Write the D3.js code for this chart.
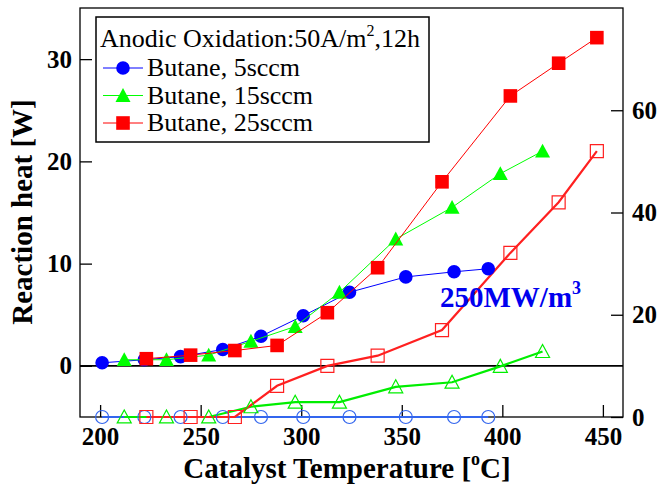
<!DOCTYPE html>
<html>
<head>
<meta charset="utf-8">
<script src="https://cdn.jsdelivr.net/npm/d3@7"></script>
<style>
  body { margin: 0; background: #fff; }
  svg { display: block; }
</style>
</head>
<body>
<svg width="661" height="488"></svg>
<script>
// catalyst temperatures (degC) per series
const tempBlue  = [201, 222, 240, 261, 280, 301, 324, 352, 376, 393];
const tempGreen = [212, 233, 254, 275, 297, 319, 347, 375, 399, 420];
const tempRed   = [223, 245, 267, 288, 313, 338, 370, 404, 428, 447];

// reaction heat [W] (filled markers, left axis)
const heatBlue  = [0.3, 0.6, 0.9, 1.6, 2.9, 4.9, 7.2, 8.7, 9.2, 9.5];
const heatGreen = [0.6, 0.6, 1.05, 2.4, 3.85, 7.2, 12.4, 15.5, 18.8, 21.0];
const heatRed   = [0.7, 1.05, 1.5, 2.0, 5.2, 9.6, 18.0, 26.4, 29.6, 32.1];

// open markers, right axis
const openBlue  = [0, 0, 0, 0, 0, 0, 0, 0, 0, 0];
const openGreen = [0, 0, 0, 2.0, 2.9, 2.9, 5.9, 6.8, 9.9, 12.8];
const openRed   = [0, 0, 0, 6.1, 10.0, 12.0, 17.0, 32.1, 42.0, 52.0];

const xTicks = [200, 250, 300, 350, 400, 450];
const leftTicks = [0, 10, 20, 30];
const rightTicks = [0, 20, 40, 60];
const seriesNames = ["Butane, 5sccm", "Butane, 15sccm", "Butane, 25sccm"];

const serif = "'Liberation Serif', 'Times New Roman', serif";
const svg = d3.select("svg");
const L = 80, R = 623, T = 8, B = 417;

const x = d3.scaleLinear().domain([190, 460]).range([L, R]);
const yL = d3.scaleLinear().domain([-5, 35]).range([B, T]);
const yR = d3.scaleLinear().domain([0, 80]).range([B, T]);

// style the axis groups (ticks inward, bold serif labels)
function styleAxis(g) {
  g.select(".domain").remove();
  g.attr("font-family", serif).attr("font-size", 25).attr("font-weight", "bold");
  g.selectAll(".tick line").attr("stroke", "#000").attr("stroke-width", 1.3);
  g.selectAll(".tick text").attr("fill", "#000");
}

svg.append("g").attr("transform", `translate(0,${B})`)
  .call(d3.axisBottom(x).tickValues(xTicks).tickSize(-12).tickPadding(10).tickFormat(d3.format("d")))
  .call(styleAxis);
svg.append("g").attr("transform", `translate(${L},0)`)
  .call(d3.axisLeft(yL).tickValues(leftTicks).tickSize(-12).tickPadding(8).tickFormat(d3.format("d")))
  .call(styleAxis);
svg.append("g").attr("transform", `translate(${R},0)`)
  .call(d3.axisRight(yR).tickValues(rightTicks).tickSize(-12).tickPadding(9).tickFormat(d3.format("d")))
  .call(styleAxis);

// frame
svg.append("rect").attr("x", L).attr("y", T).attr("width", R - L).attr("height", B - T)
  .attr("fill", "none").attr("stroke", "#000").attr("stroke-width", 1.3);

// zero line
svg.append("line").attr("x1", L).attr("x2", R).attr("y1", yL(0)).attr("y2", yL(0))
  .attr("stroke", "#000").attr("stroke-width", 1.8);

// marker shapes
function circlePath(r) { return `M${-r},0A${r},${r} 0 1,0 ${r},0A${r},${r} 0 1,0 ${-r},0Z`; }
function squarePath(s) { return `M${-s},${-s}H${s}V${s}H${-s}Z`; }
function triPath(s) { return `M0,${-s}L${s},${s * 0.85}L${-s},${s * 0.85}Z`; }

const openSeries = [
  { t: tempBlue,  v: openBlue,  color: "#3366ee", mark: circlePath(6.5) },
  { t: tempGreen, v: openGreen, color: "#00ee00", mark: triPath(7) },
  { t: tempRed,   v: openRed,   color: "#ff2020", mark: squarePath(6.5) }
];
const filledSeries = [
  { t: tempBlue,  v: heatBlue,  color: "#0000ff", mark: circlePath(6.8) },
  { t: tempGreen, v: heatGreen, color: "#00ff00", mark: triPath(7.5) },
  { t: tempRed,   v: heatRed,   color: "#ff0000", mark: squarePath(6.8) }
];

const lineR = d3.line().x(d => x(d[0])).y(d => yR(d[1]));
const lineL = d3.line().x(d => x(d[0])).y(d => yL(d[1]));

openSeries.forEach(s => {
  const pts = s.t.map((t, i) => [t, s.v[i]]);
  svg.append("path").datum(pts).attr("d", lineR)
    .attr("fill", "none").attr("stroke", s.color).attr("stroke-width", 2.2);
});
openSeries.forEach(s => {
  const pts = s.t.map((t, i) => [t, s.v[i]]);
  svg.selectAll(null).data(pts).enter().append("path")
    .attr("d", s.mark)
    .attr("transform", d => `translate(${x(d[0])},${yR(d[1])})`)
    .attr("fill", "none").attr("stroke", s.color).attr("stroke-width", 1.2);
});

filledSeries.forEach(s => {
  const pts = s.t.map((t, i) => [t, s.v[i]]);
  svg.append("path").datum(pts).attr("d", lineL)
    .attr("fill", "none").attr("stroke", s.color).attr("stroke-width", 1);
  svg.selectAll(null).data(pts).enter().append("path")
    .attr("d", s.mark)
    .attr("transform", d => `translate(${x(d[0])},${yL(d[1])})`)
    .attr("fill", s.color);
});

// legend
const lg = svg.append("g").attr("font-family", serif).attr("font-size", 26);
lg.append("rect").attr("x", 96).attr("y", 17).attr("width", 333).attr("height", 125)
  .attr("fill", "#fff").attr("stroke", "#000").attr("stroke-width", 1.5);
const lt = lg.append("text").attr("x", 100).attr("y", 47);
lt.append("tspan").text("Anodic Oxidation:50A/m");
lt.append("tspan").attr("font-size", 16).attr("dy", -11).text("2");
lt.append("tspan").attr("dy", 11).text(",12h");

filledSeries.forEach((s, i) => {
  const yy = 68 + i * 27.5;
  lg.append("line").attr("x1", 103).attr("x2", 143).attr("y1", yy).attr("y2", yy)
    .attr("stroke", s.color).attr("stroke-width", 1);
  lg.append("path").attr("d", s.mark).attr("transform", `translate(123,${yy})`).attr("fill", s.color);
  lg.append("text").attr("x", 147).attr("y", yy + 8).text(seriesNames[i]);
});

// annotation
const ann = svg.append("text").attr("x", 440).attr("y", 307)
  .attr("font-family", serif).attr("font-weight", "bold")
  .attr("font-size", 29).attr("fill", "#0000ee");
ann.append("tspan").text("250MW/m");
ann.append("tspan").attr("font-size", 18).attr("dy", -13).text("3");

// axis titles
const xt = svg.append("text").attr("x", 347).attr("y", 478).attr("text-anchor", "middle")
  .attr("font-family", serif).attr("font-weight", "bold").attr("font-size", 29);
xt.append("tspan").text("Catalyst Temperature [");
xt.append("tspan").attr("font-size", 18).attr("dy", -13).text("o");
xt.append("tspan").attr("dy", 13).text("C]");

svg.append("text").attr("transform", "translate(32,212) rotate(-90)").attr("text-anchor", "middle")
  .attr("font-family", serif).attr("font-weight", "bold").attr("font-size", 29)
  .text("Reaction heat [W]");
</script>
</body>
</html>
